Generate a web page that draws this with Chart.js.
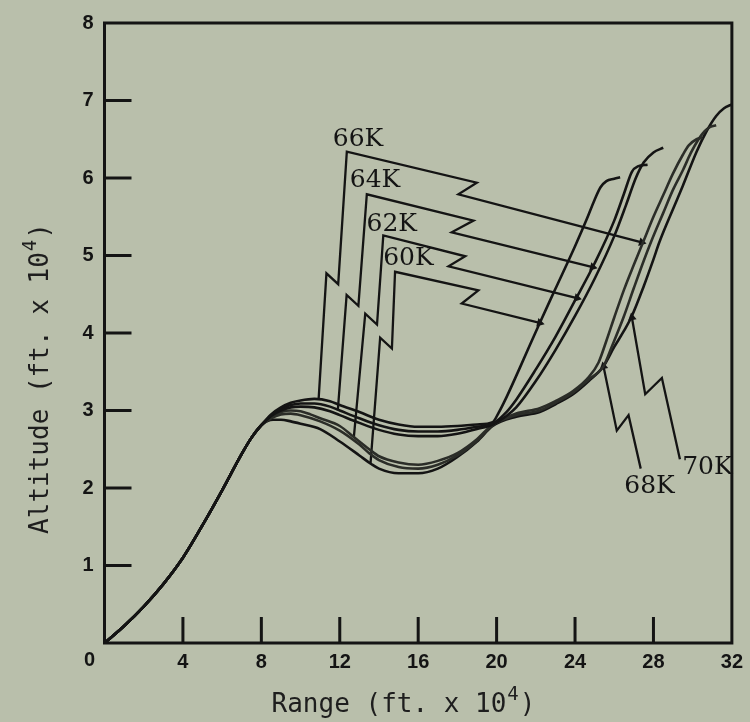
<!DOCTYPE html>
<html>
<head>
<meta charset="utf-8">
<script src="https://cdn.jsdelivr.net/npm/chart.js@4.4.1/dist/chart.umd.min.js"></script>
<style>
  html, body { margin: 0; padding: 0; background: #b9bfab; }
  canvas { display: block; }
</style>
</head>
<body>
<canvas id="trajChart" width="750" height="722"></canvas>
<script>
// points: [range (ft x 10^4), altitude (ft x 10^4)]
const rise = [[0,0],[1,0.22],[2,0.47],[3,0.76],[4,1.1],[5,1.52],[6,1.97],[7,2.44],[7.5,2.65],[8,2.81]];

const hump60 = [[8.5,2.95],[9,3.04],[9.5,3.1],[10,3.13],[10.7,3.15],[11.5,3.12],[12,3.07],[13,2.98],[14,2.88],[15,2.82],[16,2.79],[17,2.79],[18,2.8],[19,2.82],[19.8,2.85]];
const climb60 = [[20.1,2.97],[20.5,3.17],[21.2,3.56],[22.2,4.13],[23,4.57],[24,5.12],[24.6,5.47],[25,5.72],[25.3,5.88],[25.6,5.96],[26,5.99],[26.3,6.01]];

const hump62 = [[8.5,2.94],[9,3.02],[9.5,3.07],[10,3.09],[10.7,3.09],[11.5,3.05],[12,3.0],[13,2.9],[14,2.81],[15,2.75],[16,2.73],[17,2.73],[18,2.75],[19,2.79],[19.8,2.83]];
const climb62 = [[20.5,2.98],[21,3.14],[22,3.53],[23,3.95],[24,4.42],[25,4.9],[26,5.45],[26.5,5.8],[26.9,6.08],[27.2,6.15],[27.7,6.17]];

const hump64 = [[8.5,2.93],[9,3.0],[9.5,3.04],[10,3.05],[10.7,3.04],[11.5,2.99],[12,2.94],[13,2.84],[14,2.75],[15,2.69],[16,2.67],[17,2.67],[18,2.7],[19,2.76],[19.8,2.82]];
const climb64 = [[20.5,2.93],[21,3.04],[22,3.38],[23,3.78],[24,4.22],[25,4.7],[26,5.25],[26.6,5.65],[27.1,6.0],[27.5,6.2],[28,6.33],[28.5,6.39]];

const hump66 = [[8.5,2.92],[9,2.98],[9.5,3.0],[10,2.99],[10.5,2.95],[11,2.9],[12,2.8],[12.7,2.66],[13.5,2.5],[14,2.41],[15,2.33],[16,2.3],[17,2.35],[18,2.45],[19,2.63],[19.8,2.82]];
const climb66 = [[21,2.96],[22.2,3.03],[23,3.12],[23.9,3.25],[24.7,3.43],[25.2,3.62],[25.6,3.9],[26,4.2],[26.5,4.56],[27,4.88],[27.5,5.19],[28,5.5],[28.5,5.78],[29,6.06],[29.5,6.3],[29.8,6.42],[30.2,6.5],[30.5,6.52]];

const hump68 = [[8.5,2.9],[9,2.95],[9.5,2.96],[10,2.94],[11,2.86],[12,2.74],[13,2.56],[13.5,2.45],[14,2.36],[15,2.27],[16,2.25],[17,2.3],[18,2.42],[19,2.61],[19.8,2.81]];
const climb68 = [[21,2.94],[22.2,3.0],[23,3.1],[23.9,3.23],[24.7,3.4],[25.45,3.57],[25.9,3.84],[26.47,4.2],[27,4.58],[27.5,4.93],[27.9,5.19],[28.5,5.55],[29,5.85],[29.5,6.1],[29.9,6.32],[30.3,6.5],[30.6,6.6],[30.9,6.66],[31.2,6.68]];

const hump70 = [[8.6,2.88],[9,2.88],[9.5,2.86],[10,2.83],[11,2.76],[12,2.6],[13,2.42],[13.6,2.31],[14,2.25],[15,2.19],[16,2.19],[17,2.25],[18,2.4],[19,2.6],[19.8,2.8]];
const climb70 = [[21,2.92],[22.2,2.98],[23,3.08],[23.9,3.21],[24.7,3.38],[25.45,3.57],[26,3.82],[26.5,4.03],[26.9,4.22],[27.5,4.6],[28,4.95],[28.3,5.17],[29,5.6],[29.5,5.9],[30.2,6.34],[30.7,6.6],[31.2,6.8],[31.6,6.9],[32,6.95]];

// leader lines with their break marks, ending at the arrow tip
const lead66 = [[10.92,3.14],[11.32,4.77],[11.92,4.63],[12.36,6.34],[18.99,5.94],[18.05,5.79],[27.4,5.17]];
const lead64 = [[11.9,3.0],[12.35,4.49],[12.95,4.35],[13.38,5.79],[18.82,5.45],[17.71,5.3],[24.9,4.85]];
const lead62 = [[12.72,2.66],[13.3,4.25],[13.9,4.11],[14.22,5.26],[18.4,4.99],[17.55,4.86],[24.1,4.45]];
const lead60 = [[13.57,2.32],[14.06,3.94],[14.66,3.8],[14.82,4.79],[19.07,4.55],[18.22,4.38],[22.2,4.13]];
const lead68 = [[27.35,2.25],[26.73,2.94],[26.13,2.74],[25.45,3.57]];
const lead70 = [[29.35,2.37],[28.43,3.42],[27.58,3.21],[26.9,4.2]];

const labelText = ['66K', '64K', '62K', '60K', '68K', '70K'];
const labelX = [12.93, 13.8, 14.65, 15.5, 27.8, 30.75];
const labelY = [6.5, 5.97, 5.4, 4.96, 2.02, 2.26];

const rangeTicks = [0, 4, 8, 12, 16, 20, 24, 28, 32];
const altTicks = [1, 2, 3, 4, 5, 6, 7, 8];

const ink = '#141414';

function curve(data, color) {
    return {
        data: data,
        showLine: true,
        borderColor: color,
        borderWidth: 2.6,
        pointRadius: 0,
        cubicInterpolationMode: 'monotone'
    };
}

function leader(data) {
    return {
        data: data,
        showLine: true,
        borderColor: ink,
        borderWidth: 2.3,
        tension: 0,
        pointStyle: 'triangle',
        pointBackgroundColor: ink,
        pointBorderWidth: 0,
        pointRadius: ctx => ctx.dataIndex === ctx.dataset.data.length - 1 ? 5 : 0,
        pointRotation: ctx => {
            const d = ctx.dataset.data, i = ctx.dataIndex;
            if (i === 0) return 0;
            const xs = ctx.chart.scales.x, ys = ctx.chart.scales.y;
            const dx = xs.getPixelForValue(d[i][0]) - xs.getPixelForValue(d[i - 1][0]);
            const dy = ys.getPixelForValue(d[i][1]) - ys.getPixelForValue(d[i - 1][1]);
            return Math.atan2(dy, dx) * 180 / Math.PI + 90;
        }
    };
}

const tickFont = { family: '"Liberation Sans", Arial, sans-serif', size: 20, weight: 'bold' };

// frame, inward ticks, curve labels and axis titles
const decorations = {
    id: 'decorations',
    beforeDraw(chart) {
        const ctx = chart.ctx;
        ctx.save();
        ctx.fillStyle = '#b9bfab';
        ctx.fillRect(0, 0, chart.width, chart.height);
        ctx.restore();
    },
    afterDraw(chart) {
        const { ctx, chartArea: a, scales: { x, y } } = chart;
        ctx.save();
        ctx.strokeStyle = ink;
        ctx.lineWidth = 3;
        ctx.strokeRect(a.left, a.top, a.right - a.left, a.bottom - a.top);

        ctx.beginPath();
        rangeTicks.forEach(v => {
            if (v === 0 || v === 32) return;
            const px = x.getPixelForValue(v);
            ctx.moveTo(px, a.bottom);
            ctx.lineTo(px, a.bottom - 26);
        });
        altTicks.forEach(v => {
            if (v === 8) return;
            const py = y.getPixelForValue(v);
            ctx.moveTo(a.left, py);
            ctx.lineTo(a.left + 27, py);
        });
        ctx.stroke();

        ctx.fillStyle = ink;
        // the shared origin label sits left of the corner
        ctx.font = 'bold 20px "Liberation Sans"';
        ctx.textAlign = 'center';
        ctx.textBaseline = 'top';
        ctx.fillText('0', a.left - 15, a.bottom + 7);

        ctx.font = '25px "DejaVu Serif"';
        ctx.textBaseline = 'middle';
        labelText.forEach((t, i) => {
            ctx.fillText(t, x.getPixelForValue(labelX[i]), y.getPixelForValue(labelY[i]));
        });

        // axis titles with raised exponent
        const drawTitle = (main, cx, cy, rot) => {
            ctx.save();
            ctx.translate(cx, cy);
            ctx.rotate(rot);
            ctx.textAlign = 'left';
            ctx.textBaseline = 'alphabetic';
            ctx.fillStyle = '#1e1e1e';
            const big = '26px "DejaVu Sans Mono"', small = '19px "DejaVu Sans Mono"';
            ctx.font = big;
            const w1 = ctx.measureText(main).width, w3 = ctx.measureText(')').width;
            ctx.font = small;
            const w2 = ctx.measureText('4').width;
            let sx = -(w1 + w2 + w3) / 2;
            ctx.font = big;
            ctx.fillText(main, sx, 0);
            ctx.font = small;
            ctx.fillText('4', sx + w1 + 1, -12);
            ctx.font = big;
            ctx.fillText(')', sx + w1 + w2 + 2, 0);
            ctx.restore();
        };
        drawTitle('Range (ft. x 10', x.getPixelForValue(15.2), a.bottom + 69, 0);
        drawTitle('Altitude (ft. x 10', a.left - 57, y.getPixelForValue(3.4), -Math.PI / 2);
        ctx.restore();
    }
};

new Chart(document.getElementById('trajChart'), {
    type: 'scatter',
    data: {
        datasets: [
            curve(rise.concat(hump60, climb60), ink),
            curve(rise.concat(hump62, climb62), ink),
            curve(rise.concat(hump64, climb64), ink),
            curve(rise.concat(hump66, climb66), '#2b2d28'),
            curve(rise.concat(hump68, climb68), '#2b2d28'),
            curve(rise.concat(hump70, climb70), ink),
            leader(lead66),
            leader(lead64),
            leader(lead62),
            leader(lead60),
            leader(lead68),
            leader(lead70)
        ]
    },
    options: {
        responsive: false,
        animation: false,
        devicePixelRatio: 1,
        events: [],
        layout: { padding: { left: 0, right: 18, top: 17, bottom: 0 } },
        plugins: {
            legend: { display: false },
            tooltip: { enabled: false }
        },
        scales: {
            x: {
                type: 'linear',
                min: 0,
                max: 32,
                afterFit: s => { s.height = 79; },
                afterBuildTicks: s => { s.ticks = rangeTicks.map(v => ({ value: v })); },
                grid: { display: false, drawTicks: false },
                border: { display: false },
                ticks: {
                    font: tickFont, color: ink, padding: 7, maxRotation: 0,
                    callback: v => v === 0 ? '' : v
                }
            },
            y: {
                type: 'linear',
                min: 0,
                max: 8,
                afterFit: s => { s.width = 104.5; },
                afterBuildTicks: s => { s.ticks = altTicks.map(v => ({ value: v })); },
                grid: { display: false, drawTicks: false },
                border: { display: false },
                ticks: { font: tickFont, color: ink, padding: 11 }
            }
        }
    },
    plugins: [decorations]
});
</script>
</body>
</html>
